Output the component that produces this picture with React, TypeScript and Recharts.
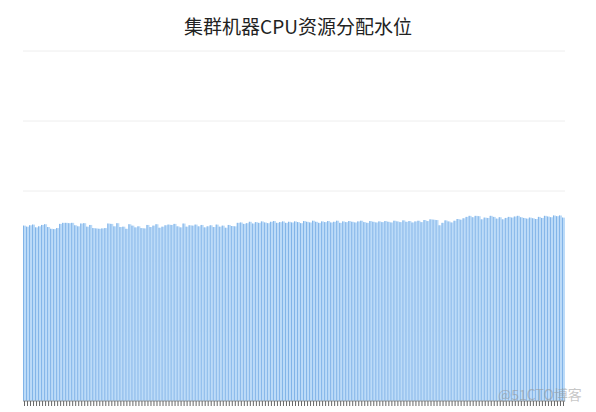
import React from "react";
import { BarChart, Bar, XAxis, YAxis, CartesianGrid } from "recharts";

const TITLE = "集群机器CPU资源分配水位";

// allocation water level (%) per machine, read left to right
const cpuAlloc: number[] = [
  50.1, 49.8, 50.2, 50.4, 49.6, 49.9, 50.3, 50.5, 49.7, 49.2, 49.1, 49.4, 50.6, 50.9, 50.9,
  50.8, 50.9, 50.2, 49.9, 50.7, 50.8, 49.8, 50.3, 49.4, 49.3, 49.2, 49.3, 49.4, 50.7, 50.6,
  49.9, 50.8, 49.7, 49.8, 49.2, 50.5, 50.1, 49.6, 49.9, 49.4, 49.3, 50.3, 49.7, 50.1, 50.5,
  49.5, 49.8, 50.2, 50.4, 50.3, 50.6, 49.9, 49.6, 50.7, 49.8, 50.2, 50.1, 50.4, 49.9, 50.3,
  49.6, 49.9, 50.2, 49.7, 50.4, 49.8, 50.1, 49.5, 50.3, 50.0, 49.9, 50.9, 51.0, 50.6, 50.8,
  51.2, 50.7, 51.1, 50.9, 51.3, 51.0, 50.8, 51.2, 51.4, 50.9, 51.1, 51.3, 50.9, 51.2, 51.0,
  51.3, 51.1, 50.8, 51.4, 51.2, 51.0, 51.5, 51.2, 50.9, 51.3, 51.1, 51.4, 51.0, 51.2, 51.5,
  50.9, 51.3, 51.1, 51.4, 51.2, 51.0, 51.3, 51.5, 51.1, 50.9, 51.4, 51.2, 51.0, 51.3, 51.1,
  51.4, 51.2, 51.0, 51.5, 51.3, 51.1, 51.6, 51.2, 51.4, 51.0, 51.3, 51.5, 51.1, 51.7, 51.4,
  51.9, 51.8, 51.7, 50.2, 50.9, 51.6, 51.3, 51.0, 51.5, 52.0, 51.8, 52.2, 52.6, 52.9, 52.5,
  52.9, 52.8, 51.9, 52.4, 52.3, 52.9, 52.6, 52.1, 52.5, 51.9, 52.3, 52.6, 52.4, 52.7, 52.9,
  52.5, 52.3, 52.1, 52.4, 52.2, 52.0, 52.6, 52.3, 52.9, 52.7, 52.5, 53.0, 52.8, 53.0, 52.4,
];

const machines: string[] = cpuAlloc.map((_, i) => `node-${i + 1}`);
const yTicks = [0, 20, 40, 60, 80, 100];

const data = machines.map((name, i) => ({ name, value: cpuAlloc[i] }));

const FILL = "#bcdbf8";
const EDGE = "#82b4e8";

const StripedBar = (props: any) => {
  const { x, y, width, height } = props;
  if (!height || height <= 0) return null;
  return (
    <g>
      <rect x={x} y={y} width={width} height={height} fill={FILL} />
      <rect x={x} y={y} width={1} height={height} fill={EDGE} />
    </g>
  );
};

export default function App() {
  return (
    <div style={{ position: "absolute", left: 0, top: 0, width: 596, height: 412 }}>
      <div
        style={{
          position: "absolute",
          top: 12,
          width: 596,
          textAlign: "center",
          fontFamily: "'Noto Sans CJK SC', sans-serif",
          fontSize: 19,
          color: "#222",
        }}
      >
        {TITLE}
      </div>
      <BarChart
        width={596}
        height={412}
        data={data}
        margin={{ top: 51, right: 31, bottom: 1, left: 23 }}
        barCategoryGap={0}
      >
        <CartesianGrid vertical={false} stroke="#eeeeee" />
        <XAxis
          dataKey="name"
          interval={0}
          tick={() => <g />}
          tickSize={5}
          height={10}
          axisLine={{ stroke: "#999" }}
          tickLine={{ stroke: "#666" }}
        />
        <YAxis hide domain={[0, 100]} ticks={yTicks} />
        <Bar dataKey="value" shape={<StripedBar />} isAnimationActive={false} />
      </BarChart>
      <div
        style={{
          position: "absolute",
          left: 498,
          top: 384,
          fontFamily: "'Noto Sans CJK SC', sans-serif",
          fontSize: 14,
          color: "rgba(150,150,150,0.55)",
        }}
      >
        @51CTO博客
      </div>
    </div>
  );
}
